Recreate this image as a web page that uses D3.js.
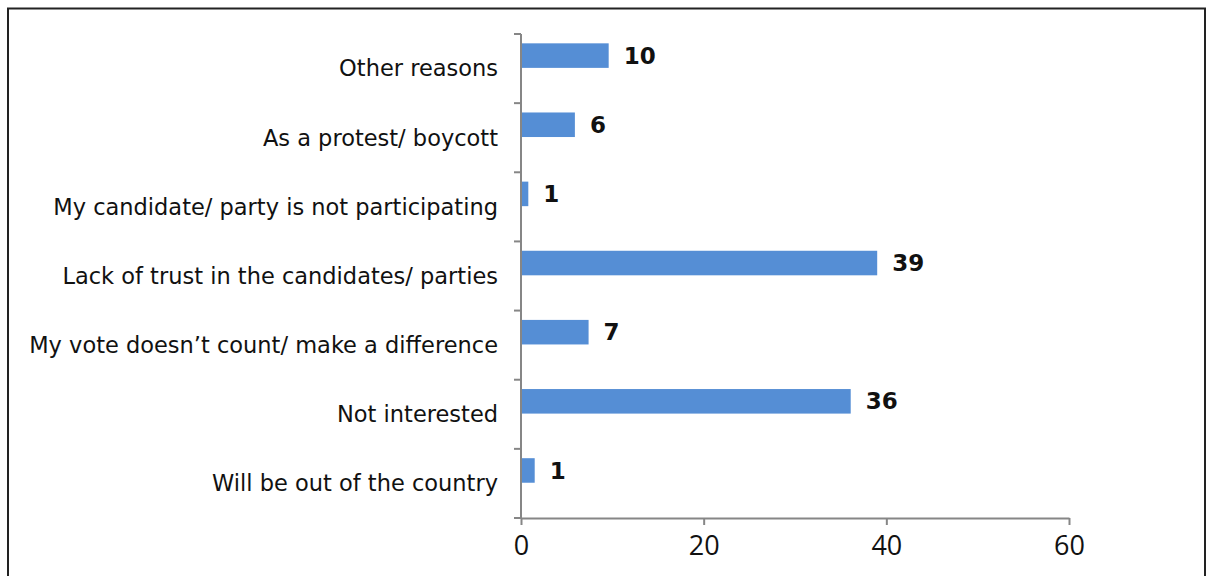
<!DOCTYPE html>
<html lang="en">
<head>
<meta charset="utf-8">
<title>Reasons for not voting</title>
<script src="https://d3js.org/d3.v7.min.js"></script>
<style>
  body { margin: 0; background: #fff; }
</style>
</head>
<body>
<script>
// categories top to bottom
var categories = [
  "Other reasons",
  "As a protest/ boycott",
  "My candidate/ party is not participating",
  "Lack of trust in the candidates/ parties",
  "My vote doesn\u2019t count/ make a difference",
  "Not interested",
  "Will be out of the country"
];
// bar lengths as drawn, and the printed labels
var values = [9.6, 5.9, 0.8, 39, 7.4, 36.1, 1.5];
var valueLabels = ["10", "6", "1", "39", "7", "36", "1"];
var xTicks = [0, 20, 40, 60];

var W = 1213, H = 576;
var x0 = 521, x1 = 1069, yTop = 34, yBot = 518;

var svg = d3.select("body").append("svg")
  .attr("width", W).attr("height", H);

// frame
svg.append("path")
  .attr("d", "M8," + H + " L8,8.5 L1205,8.5 L1205," + H)
  .attr("fill", "none").attr("stroke", "#222").attr("stroke-width", 2);

var x = d3.scaleLinear().domain([0, 60]).range([x0, x1]);
var y = d3.scaleBand().domain(categories).range([yTop, yBot]);
var bw = y.bandwidth();

// bars
svg.selectAll("rect.bar")
  .data(values)
  .enter().append("rect")
  .attr("class", "bar")
  .attr("x", x(0))
  .attr("y", function(d, i){ return y(categories[i]) + bw * 0.135; })
  .attr("width", function(d){ return x(d) - x(0); })
  .attr("height", bw * 0.355)
  .attr("fill", "#558ed5");

// value labels
svg.selectAll("text.val")
  .data(values)
  .enter().append("text")
  .attr("class", "val")
  .attr("x", function(d){ return x(d) + 15; })
  .attr("y", function(d, i){ return y(categories[i]) + bw * 0.31; })
  .attr("dy", "0.36em")
  .style("font-size", "23px")
  .style("font-family", "'DejaVu Sans', sans-serif")
  .style("font-weight", "bold")
  .attr("fill", "#111")
  .text(function(d, i){ return valueLabels[i]; });

// y axis
var yAxis = svg.append("g");
yAxis.append("line")
  .attr("x1", x0).attr("x2", x0).attr("y1", yTop).attr("y2", yBot)
  .attr("stroke", "#868686").attr("stroke-width", 2);
var yTickPos = categories.map(function(c){ return y(c); }).concat([yBot]);
yAxis.selectAll("line.tick")
  .data(yTickPos)
  .enter().append("line")
  .attr("x1", x0 - 7).attr("x2", x0)
  .attr("y1", function(d){ return d; }).attr("y2", function(d){ return d; })
  .attr("stroke", "#868686").attr("stroke-width", 2);
yAxis.selectAll("text")
  .data(categories)
  .enter().append("text")
  .attr("x", x0 - 23)
  .attr("y", function(d){ return y(d) + bw / 2; })
  .attr("dy", "0.35em")
  .attr("text-anchor", "end")
  .style("font-size", "22.5px")
  .style("font-family", "'DejaVu Sans', sans-serif")
  .attr("fill", "#111")
  .text(function(d){ return d; });

// x axis
var xAxis = svg.append("g").attr("transform", "translate(0," + yBot + ")")
  .call(d3.axisBottom(x).tickValues(xTicks).tickSize(7).tickSizeOuter(0).tickPadding(11));
xAxis.select(".domain").attr("stroke", "#868686").attr("stroke-width", 2);
xAxis.selectAll(".tick line").attr("stroke", "#868686").attr("stroke-width", 2);
xAxis.selectAll(".tick text")
  .style("font-size", "27px")
  .style("font-family", "'Open Sans', sans-serif")
  .attr("fill", "#111");
</script>
</body>
</html>
